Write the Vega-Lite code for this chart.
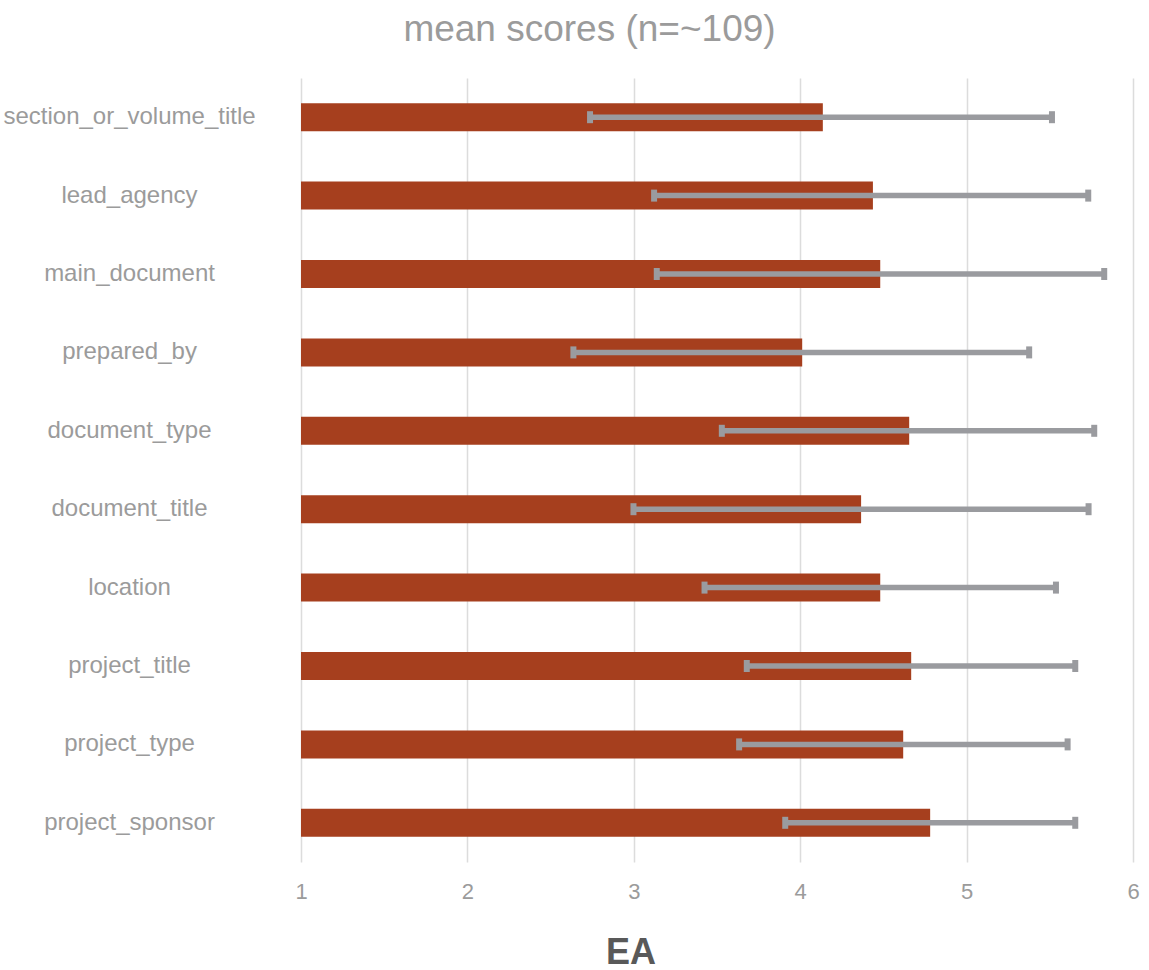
{
  "$schema": "https://vega.github.io/schema/vega-lite/v6.json",
  "width": 832,
  "height": 784,
  "autosize": {"type": "none"},
  "padding": {"left": 301, "top": 78, "right": 16, "bottom": 108},
  "background": "white",
  "config": {"view": {"stroke": null}, "font": "Liberation Sans"},
  "title": {
    "text": "mean scores (n=~109)",
    "font": "Liberation Sans",
    "fontSize": 37,
    "fontWeight": "normal",
    "color": "#9b9b9b",
    "anchor": "middle",
    "frame": "group",
    "dx": -127.5,
    "offset": 0,
    "baseline": "alphabetic"
  },
  "data": {
    "values": [
      {"field": "section_or_volume_title", "mean": 4.136, "low": 2.737, "high": 5.513},
      {"field": "lead_agency", "mean": 4.437, "low": 3.122, "high": 5.731},
      {"field": "main_document", "mean": 4.481, "low": 3.138, "high": 5.827},
      {"field": "prepared_by", "mean": 4.012, "low": 2.637, "high": 5.376},
      {"field": "document_type", "mean": 4.655, "low": 3.529, "high": 5.767},
      {"field": "document_title", "mean": 4.366, "low": 2.998, "high": 5.733},
      {"field": "location", "mean": 4.481, "low": 3.425, "high": 5.537},
      {"field": "project_title", "mean": 4.667, "low": 3.679, "high": 5.653},
      {"field": "project_type", "mean": 4.619, "low": 3.633, "high": 5.607},
      {"field": "project_sponsor", "mean": 4.781, "low": 3.91, "high": 5.653}
    ]
  },
  "encoding": {
    "y": {
      "field": "field",
      "type": "nominal",
      "sort": null,
      "scale": {"paddingInner": 0, "paddingOuter": 0},
      "axis": {
        "title": null,
        "domain": false,
        "ticks": false,
        "tickSize": 0,
        "grid": false,
        "labelAlign": "center",
        "labelBaseline": "middle",
        "labelPadding": 172,
        "labelLimit": 400,
        "labelFont": "Liberation Sans",
        "labelFontSize": 24,
        "labelColor": "#9b9b9b"
      }
    }
  },
  "layer": [
    {
      "mark": {"type": "bar", "size": 28, "color": "#A63F1E"},
      "encoding": {
        "x": {
          "field": "mean",
          "type": "quantitative",
          "scale": {"domain": [1, 6], "nice": false, "zero": false},
          "axis": {
            "values": [1, 2, 3, 4, 5, 6],
            "format": "d",
            "domain": false,
            "ticks": false,
            "tickSize": 0,
            "grid": true,
            "gridColor": "#dcdcdc",
            "gridWidth": 1.5,
            "labelFont": "Liberation Sans",
            "labelFontSize": 22,
            "labelColor": "#9b9b9b",
            "labelBaseline": "alphabetic",
            "labelPadding": 36,
            "labelFlush": false,
            "title": "EA",
            "titleFont": "Liberation Sans",
            "titleFontSize": 36,
            "titleFontWeight": "bold",
            "titleColor": "#595959",
            "titleX": 329.5,
            "titleY": 101,
            "titleAlign": "center",
            "titleBaseline": "alphabetic"
          }
        },
        "x2": {"datum": 1}
      }
    },
    {
      "mark": {"type": "rule", "color": "#9A9B9F", "strokeWidth": 5.5},
      "encoding": {
        "x": {"field": "low", "type": "quantitative"},
        "x2": {"field": "high"}
      }
    },
    {
      "mark": {"type": "tick", "color": "#9A9B9F", "size": 12, "thickness": 6, "opacity": 1},
      "encoding": {
        "x": {"field": "low", "type": "quantitative"}
      }
    },
    {
      "mark": {"type": "tick", "color": "#9A9B9F", "size": 12, "thickness": 6, "opacity": 1},
      "encoding": {
        "x": {"field": "high", "type": "quantitative"}
      }
    }
  ]
}
